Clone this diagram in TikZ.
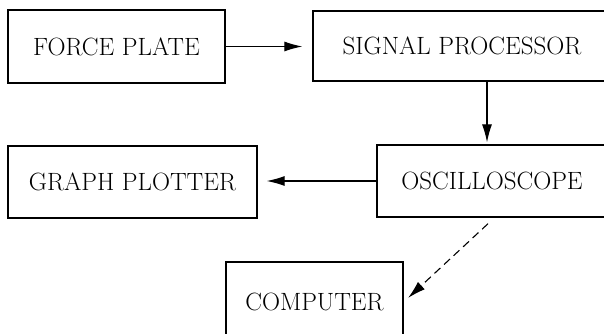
\documentclass[tikz,border=0pt]{standalone}
\usetikzlibrary{arrows.meta}
\begin{document}
\begin{tikzpicture}[x=1pt,y=-1pt,
  box/.style={draw,line width=1.4pt,rectangle,inner sep=0pt,font=\fontsize{25pt}{30pt}\selectfont},
  arr/.style={line width=1.1pt,-{Latex[length=18pt,width=10pt]}},
  darr/.style={arr,dash pattern=on 8pt off 5pt}]
\useasboundingbox (0,0) rectangle (604,334);
\node[box,minimum width=217pt,minimum height=73pt] (fp) at (116.5,46.5) {FORCE PLATE};
\node[box,minimum width=298pt,minimum height=70pt] (sp) at (462,46) {SIGNAL PROCESSOR};
\node[box,minimum width=230pt,minimum height=72pt] (osc) at (492,181) {OSCILLOSCOPE};
\node[box,minimum width=249pt,minimum height=72pt] (gp) at (132.5,182) {GRAPH PLOTTER};
\node[box,minimum width=177pt,minimum height=80pt] (comp) at (314.5,302) {COMPUTER};
\draw[arr,shorten >=10pt] (fp.east) -- (fp.east -| sp.west);
\draw[arr,shorten >=2pt] ([xshift=-5pt]osc.north |- sp.south) -- ([xshift=-5pt]osc.north);
\draw[arr,shorten >=9pt] (osc.west) -- (osc.west -| gp.east);
\coordinate (ds) at ([xshift=-4pt,yshift=-6pt]osc.south);
\draw[darr,shorten >=6pt] (ds) -- (comp.east);
\end{tikzpicture}
\end{document}
